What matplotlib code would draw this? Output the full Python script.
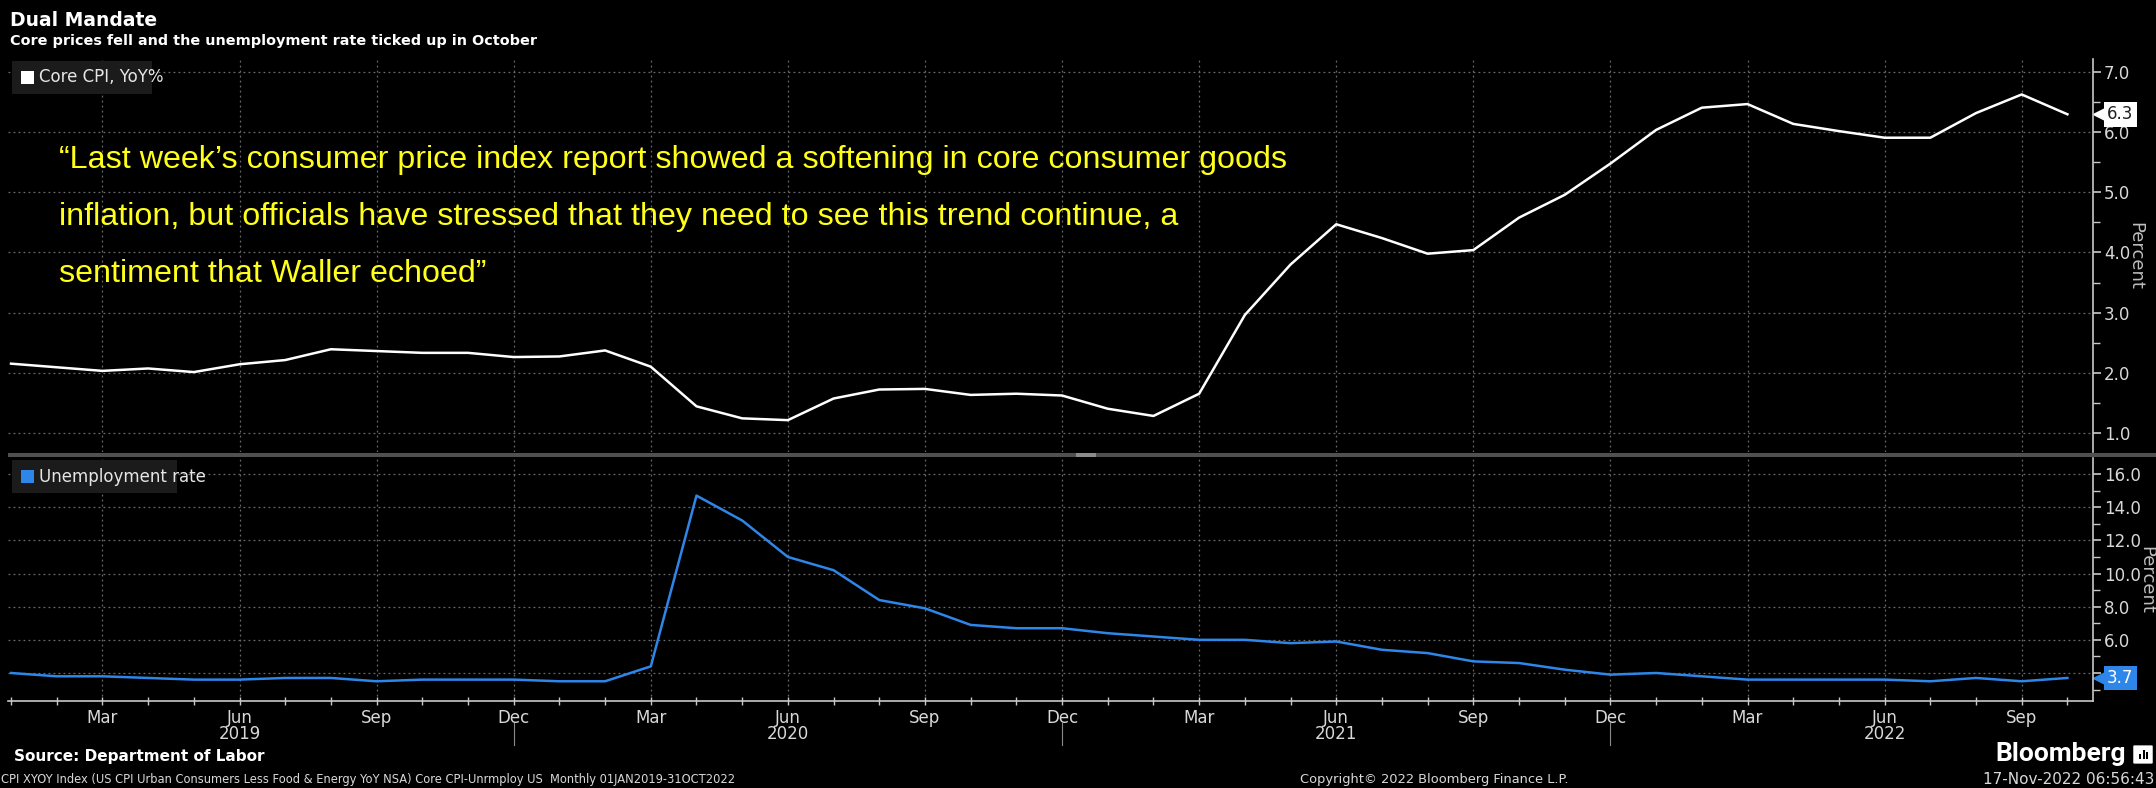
import numpy as np
import matplotlib
matplotlib.use("Agg")
import matplotlib.pyplot as plt
import matplotlib.transforms as mtransforms
from matplotlib.patches import Rectangle, FancyBboxPatch

# monthly data, Jan 2019 .. Oct 2022
months = ['Jan', 'Feb', 'Mar', 'Apr', 'May', 'Jun', 'Jul', 'Aug', 'Sep', 'Oct', 'Nov', 'Dec']
years = [2019, 2020, 2021, 2022]
core_cpi = [2.15, 2.09, 2.03, 2.07, 2.01, 2.14, 2.21, 2.39, 2.36, 2.33, 2.33, 2.26,
            2.27, 2.37, 2.10, 1.44, 1.24, 1.21, 1.57, 1.72, 1.73, 1.63, 1.65, 1.62,
            1.40, 1.28, 1.65, 2.96, 3.80, 4.47, 4.24, 3.98, 4.04, 4.58, 4.96, 5.48,
            6.04, 6.41, 6.47, 6.14, 6.02, 5.91, 5.91, 6.32, 6.63, 6.30]
unemp = [4.0, 3.8, 3.8, 3.7, 3.6, 3.6, 3.7, 3.7, 3.5, 3.6, 3.6, 3.6,
         3.5, 3.5, 4.4, 14.7, 13.2, 11.0, 10.2, 8.4, 7.9, 6.9, 6.7, 6.7,
         6.4, 6.2, 6.0, 6.0, 5.8, 5.9, 5.4, 5.2, 4.7, 4.6, 4.2, 3.9,
         4.0, 3.8, 3.6, 3.6, 3.6, 3.6, 3.5, 3.7, 3.5, 3.7]
cpi_ticks = [1, 2, 3, 4, 5, 6, 7]
unemp_ticks = [4, 6, 8, 10, 12, 14, 16]

quote = ["\u201cLast week\u2019s consumer price index report showed a softening in core consumer goods",
         "inflation, but officials have stressed that they need to see this trend continue, a",
         "sentiment that Waller echoed\u201d"]

n = len(core_cpi)
x = np.arange(n)
month_labels = [months[i % 12] for i in range(n)]

W, H = 2156, 788
BG = 'black'
TXT = '#d8d8d8'
GRID = '#6a6a6a'
BLUE = '#2d86e8'
NARROW = ['Liberation Sans Narrow', 'DejaVu Sans']

fig = plt.figure(figsize=(W / 100, H / 100), dpi=100, facecolor=BG)

def fx(px):
    return px / W

def fy(py):
    return 1 - py / H

left = fx(8)
width = fx(2093) - left
ax1 = fig.add_axes([left, fy(452), width, fy(59) - fy(452)], facecolor=BG)
ax2 = fig.add_axes([left, fy(701), width, fy(458) - fy(701)], facecolor=BG, sharex=ax1)

xlim = (-0.066, 45.56)

for ax in (ax1, ax2):
    ax.set_xlim(xlim)
    for s in ['left', 'top', 'bottom']:
        ax.spines[s].set_visible(False)
    ax.spines['right'].set_color('#c8c8c8')
    ax.spines['right'].set_linewidth(1.2)
    ax.yaxis.tick_right()
    ax.yaxis.set_label_position('right')
    ax.tick_params(axis='y', which='major', colors='#c8c8c8', labelcolor=TXT, length=6, width=1.2,
                   labelsize=12, pad=2)
    ax.tick_params(axis='y', which='minor', colors='#c8c8c8', length=5, width=1.0)
    ax.grid(True, which='major', color=GRID, linestyle=(0, (1.5, 2.5)), linewidth=0.9)
    ax.set_axisbelow(True)

# top panel
ax1.plot(x, core_cpi, color='white', lw=1.8, solid_joinstyle='round')
ax1.set_ylim(0.68, 7.22)
ax1.set_yticks(cpi_ticks)
ax1.set_yticklabels(['%.1f' % v for v in cpi_ticks], family=NARROW)
ax1.set_yticks(np.arange(1.5, 7.0, 1.0), minor=True)
ax1.tick_params(axis='x', which='both', bottom=False, labelbottom=False)
ax1.set_ylabel('Percent', color='#bdbdbd', fontsize=13, rotation=270, labelpad=10, family=NARROW)

# bottom panel
ax2.plot(x, unemp, color=BLUE, lw=1.8, solid_joinstyle='round')
ax2.set_ylim(2.31, 16.97)
ax2.set_yticks(unemp_ticks)
ax2.set_yticklabels([''] + ['%.1f' % v for v in unemp_ticks[1:]], family=NARROW)
ax2.set_yticks(np.arange(3, 17, 2), minor=True)
ax2.set_ylabel('Percent', color='#bdbdbd', fontsize=13, rotation=270, labelpad=10, family=NARROW)
ax2.spines['bottom'].set_visible(True)
ax2.spines['bottom'].set_color('#c8c8c8')
ax2.spines['bottom'].set_linewidth(1.2)

major_x = [i for i in range(n) if i % 3 == 2]
ax2.set_xticks(major_x)
ax2.set_xticklabels([month_labels[i] for i in major_x], family=NARROW)
ax2.set_xticks(x, minor=True)
ax2.tick_params(axis='x', which='both', direction='inout', colors='#c8c8c8', labelcolor=TXT,
                length=6, width=1.0, labelsize=12, pad=3)

# year labels under June, separators under December
for k, yr in enumerate(years):
    ax2.annotate(str(yr), xy=(k * 12 + 5, 0), xycoords=('data', 'axes fraction'), xytext=(0, -24),
                 textcoords='offset points', ha='center', va='center', color=TXT, fontsize=12,
                 family=NARROW)
    if k < len(years) - 1:
        ax2.plot([k * 12 + 11, k * 12 + 11], [-0.09, -0.18], color='#8a8a8a', lw=0.8,
                 transform=ax2.get_xaxis_transform(), clip_on=False)

# last value boxes with a small pointer at the axis
def value_box(ax, val, fc, tc):
    tr = mtransforms.offset_copy(ax.get_yaxis_transform(), fig=fig, x=6, y=0, units='dots')
    ax.plot([1.0], [val], marker='<', markersize=9, color=fc, transform=tr, clip_on=False)
    ax.annotate('%.1f' % val, xy=(1, val), xycoords=('axes fraction', 'data'),
                xytext=(10, 0), textcoords='offset points', ha='left', va='center', fontsize=12,
                color=tc, family=NARROW,
                bbox=dict(boxstyle='square,pad=0.2', fc=fc, ec='none'))

value_box(ax1, core_cpi[-1], 'white', '#202020')
value_box(ax2, unemp[-1], BLUE, 'white')

# legend boxes
def legend_box(label, color, top_px, w_px):
    fig.add_artist(Rectangle((fx(12), fy(top_px + 33)), fx(w_px), 33 / H, transform=fig.transFigure,
                             fc='#1b1b1b', ec='none', zorder=5))
    fig.add_artist(Rectangle((fx(21), fy(top_px + 23)), fx(13), 13 / H, transform=fig.transFigure,
                             fc=color, ec='none', zorder=6))
    fig.text(fx(39), fy(top_px + 16.5), label, color='#e6e6e6', fontsize=12, va='center',
             ha='left', family=NARROW, zorder=7)

legend_box('Core CPI, YoY%', 'white', 61, 140)
legend_box('Unemployment rate', BLUE, 460, 165)

# separator bar between panels
fig.add_artist(Rectangle((fx(8), fy(457)), 1 - fx(8), 4 / H, transform=fig.transFigure,
                         fc='#505050', ec='none'))
fig.add_artist(Rectangle((fx(1076), fy(457)), fx(20), 4 / H, transform=fig.transFigure,
                         fc='#8c8c8c', ec='none'))

# quote
for k, line in enumerate(quote):
    fig.text(fx(59), fy(160 + 57 * k), line, color='#ffff1a', fontsize=23.2, va='center', ha='left',
             family=['Liberation Sans', 'DejaVu Sans'])

# titles and footer
fig.text(fx(10), fy(20), 'Dual Mandate', color='white', fontsize=13.5, fontweight='bold',
         va='center', ha='left')
fig.text(fx(10), fy(41), 'Core prices fell and the unemployment rate ticked up in October', color='white',
         fontsize=10.4, fontweight='bold', va='center', ha='left')
fig.text(fx(14), fy(756), 'Source: Department of Labor', color='white', fontsize=11, fontweight='bold',
         va='center', ha='left')
fig.text(fx(1), fy(780), 'CPI XYOY Index (US CPI Urban Consumers Less Food & Energy YoY NSA) Core CPI-Unrmploy US  '
         'Monthly 01JAN2019-31OCT2022', color=TXT, fontsize=8.3, va='center', ha='left', family=NARROW)
fig.text(fx(1434), fy(780), 'Copyright\u00a9 2022 Bloomberg Finance L.P.', color=TXT, fontsize=9.4,
         va='center', ha='center', family=NARROW)
fig.text(fx(2154), fy(780), '17-Nov-2022 06:56:43', color=TXT, fontsize=11, va='center', ha='right',
         family=NARROW)
fig.text(fx(2126), fy(754), 'Bloomberg', color='white', fontsize=19, fontweight='bold', va='center',
         ha='right', family=['Roboto', 'DejaVu Sans'])
fig.add_artist(FancyBboxPatch((fx(2135), fy(763)), fx(16), 17 / H, boxstyle='round,pad=0.0008',
                              transform=fig.transFigure, fc='white', ec='none'))
for j, hh in enumerate([5, 9, 7]):
    fig.add_artist(Rectangle((fx(2139 + j * 3.5), fy(759)), fx(2), hh / H, transform=fig.transFigure,
                             fc='black', ec='none'))

fig.savefig('out.png', dpi=100, facecolor=BG)
